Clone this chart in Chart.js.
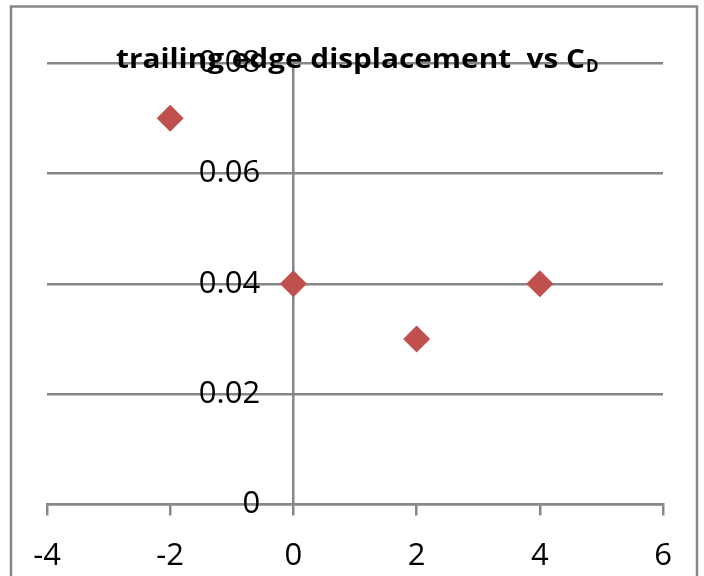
<!DOCTYPE html>
<html>
<head>
<meta charset="utf-8">
<script src="https://cdn.jsdelivr.net/npm/chart.js@4"></script>
<style>
  html, body { margin: 0; padding: 0; background: #ffffff; }
  #wrap { width: 704px; height: 576px; position: relative; }
</style>
</head>
<body>
<div id="wrap"><canvas id="chart" width="704" height="576"></canvas></div>
<script>
// Angle of attack (x) and drag coefficient (y)
const xValues = [-2, 0, 2, 4];
const cdValues = [0.07, 0.04, 0.03, 0.04];
const xRange = [-4, 6];
const yRange = [0, 0.08];
const xStep = 2;
const yStep = 0.02;
const titleMain = 'trailing edge displacement  vs C';
const titleSub = 'D';

const GRAY = '#868686';
const MARK = '#C0504D';

const points = xValues.map((x, i) => ({ x: x, y: cdValues[i] }));

// Outer frame of the chart object
const framePlugin = {
  id: 'frame',
  beforeDraw(chart) {
    const ctx = chart.ctx;
    ctx.save();
    ctx.strokeStyle = GRAY;
    ctx.lineWidth = 2.5;
    ctx.strokeRect(11, 6.5, 686, 572);
    ctx.restore();
  }
};

// Bold title with subscript, drawn over the plot
const titlePlugin = {
  id: 'subTitle',
  afterDraw(chart) {
    const ctx = chart.ctx;
    ctx.save();
    ctx.fillStyle = '#000000';
    ctx.textBaseline = 'alphabetic';
    ctx.font = 'bold 26px "Open Sans"';
    const mainW = ctx.measureText(titleMain).width;
    const targetW = 469;
    const sx = targetW / mainW;
    const left = 116;
    ctx.save();
    ctx.translate(left, 68);
    ctx.scale(sx, 1);
    ctx.fillText(titleMain, 0, 0);
    ctx.restore();
    ctx.font = 'bold 17px "Open Sans"';
    ctx.fillText(titleSub, left + targetW + 1, 72);
    ctx.restore();
  }
};

new Chart(document.getElementById('chart'), {
  type: 'scatter',
  data: {
    datasets: [{
      data: points,
      pointStyle: 'rectRot',
      pointRadius: 13.5,
      pointHoverRadius: 13.5,
      backgroundColor: MARK,
      borderColor: MARK,
      borderWidth: 0
    }]
  },
  options: {
    responsive: false,
    animation: false,
    devicePixelRatio: 1,
    layout: { padding: { left: 47, right: 41, top: 63, bottom: 0 } },
    plugins: {
      legend: { display: false },
      title: { display: false },
      tooltip: { enabled: false }
    },
    scales: {
      x: {
        type: 'linear',
        position: 'bottom',
        min: xRange[0],
        max: xRange[1],
        afterFit(scale) { scale.height = 71.5; },
        ticks: {
          stepSize: xStep,
          padding: 22,
          color: '#000000',
          font: { family: '"Open Sans"', size: 31 }
        },
        grid: {
          // only the value axis line at x = 0 is drawn across the plot
          drawOnChartArea: true,
          drawTicks: true,
          tickLength: 11,
          color: (c) => (c.tick && c.tick.value === 0 ? GRAY : 'rgba(0,0,0,0)'),
          tickColor: GRAY,
          lineWidth: 2.5
        },
        border: { display: true, color: GRAY, width: 2.5 }
      },
      y: {
        type: 'linear',
        // labels sit just left of the x = 0 crossing line
        position: { x: -0.54 },
        min: yRange[0],
        max: yRange[1],
        afterFit(scale) { scale.width = 0; },
        ticks: {
          stepSize: yStep,
          color: '#000000',
          font: { family: '"Open Sans"', size: 31 },
          callback: (v) => String(+v.toFixed(2))
        },
        grid: {
          drawOnChartArea: true,
          drawTicks: false,
          color: GRAY,
          lineWidth: 2.5
        },
        border: { display: false }
      }
    }
  },
  plugins: [framePlugin, titlePlugin]
});
</script>
</body>
</html>
